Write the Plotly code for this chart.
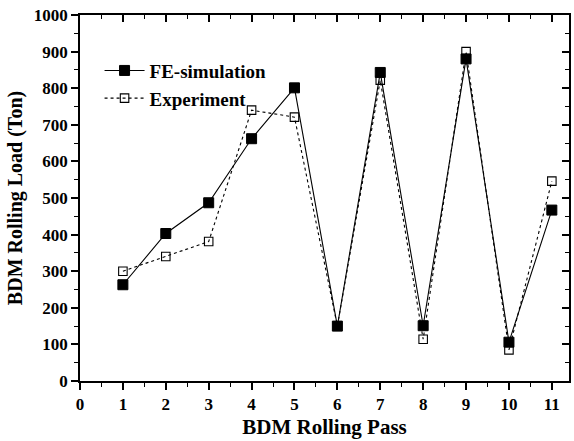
import plotly.graph_objects as go

passes = [1, 2, 3, 4, 5, 6, 7, 8, 9, 10, 11]
fe_sim = [263, 403, 487, 662, 801, 150, 843, 151, 880, 106, 467]
experiment = [300, 340, 381, 740, 721, 150, 822, 114, 900, 85, 546]

FONT = "Liberation Serif"

fig = go.Figure()
fig.add_trace(go.Scatter(
    x=passes, y=fe_sim, name="<b>FE-simulation</b>", mode="lines+markers",
    line=dict(color="black", width=1.1),
    marker=dict(symbol="square", size=10, color="black", line=dict(color="black", width=1)),
))
fig.add_trace(go.Scatter(
    x=passes, y=experiment, name="<b>Experiment</b>", mode="lines+markers",
    line=dict(color="black", width=1.1, dash="dot"),
    marker=dict(symbol="square-open", size=8.5, color="black", line=dict(width=1.1)),
))

XR = [0, 11.4]
YR = [0, 1000]
tickfont = dict(family=FONT, size=17, color="black")

fig.update_layout(
    width=574, height=441,
    margin=dict(l=80, r=3, t=15, b=60),
    plot_bgcolor="white", paper_bgcolor="white",
    font=dict(family=FONT, color="black"),
    showlegend=True,
    legend=dict(x=0.04, y=0.9, xanchor="left", yanchor="top",
                bgcolor="rgba(0,0,0,0)", font=dict(family=FONT, size=19, color="black"),
                tracegroupgap=0, itemwidth=40),
    xaxis=dict(range=XR, tickmode="linear", tick0=0, dtick=1, showgrid=False, zeroline=False,
               showline=True, linecolor="black", linewidth=1.5, mirror=True,
               ticks="outside", ticklen=7, tickwidth=1.5, tickcolor="black",
               minor=dict(ticks="outside", ticklen=4, dtick=0.5, tick0=0, tickcolor="black", tickwidth=1.2),
               tickfont=tickfont, tickprefix="<b>", ticksuffix="</b>",
               title=dict(text="<b>BDM Rolling Pass</b>", font=dict(family=FONT, size=21, color="black"), standoff=6)),
    yaxis=dict(range=YR, tickmode="linear", tick0=0, dtick=100, showgrid=False, zeroline=False,
               showline=True, linecolor="black", linewidth=1.5, mirror=True,
               ticks="outside", ticklen=7, tickwidth=1.5, tickcolor="black",
               minor=dict(ticks="outside", ticklen=4, dtick=50, tick0=0, tickcolor="black", tickwidth=1.2),
               tickfont=tickfont, tickprefix="<b>", ticksuffix="</b>",
               title=dict(text="<b>BDM Rolling Load (Ton)</b>", font=dict(family=FONT, size=20, color="black"), standoff=6)),
    xaxis2=dict(range=XR, overlaying="x", side="top", tickmode="linear", tick0=0, dtick=1,
                showgrid=False, zeroline=False, showticklabels=False,
                ticks="inside", ticklen=7, tickwidth=1.5, tickcolor="black",
                minor=dict(ticks="inside", ticklen=4, dtick=0.5, tick0=0, tickcolor="black", tickwidth=1.2)),
    yaxis2=dict(range=YR, overlaying="y", side="right", tickmode="linear", tick0=0, dtick=100,
                showgrid=False, zeroline=False, showticklabels=False,
                ticks="inside", ticklen=7, tickwidth=1.5, tickcolor="black",
                minor=dict(ticks="inside", ticklen=4, dtick=50, tick0=0, tickcolor="black", tickwidth=1.2)),
)
# invisible trace to activate the mirrored axes
fig.add_trace(go.Scatter(x=[None], y=[None], xaxis="x2", yaxis="y2", showlegend=False, hoverinfo="skip"))

fig.write_html("out.html")
